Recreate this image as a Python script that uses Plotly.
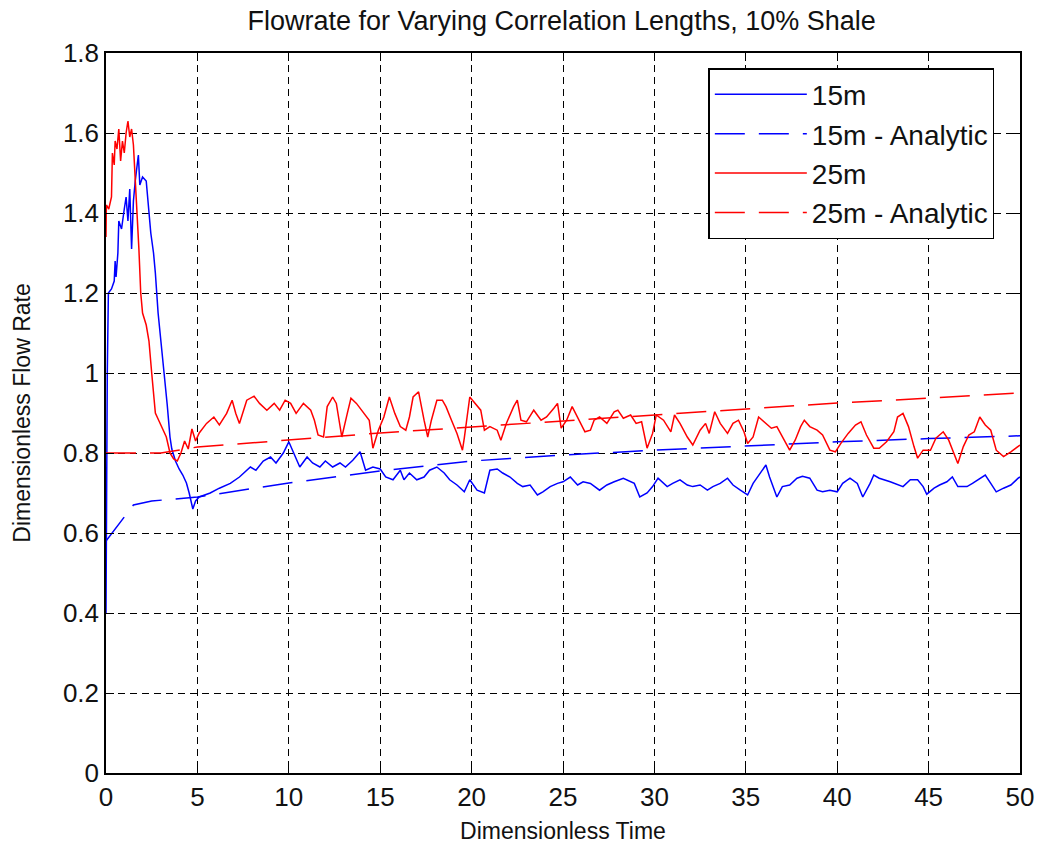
import plotly.graph_objects as go

# ---------------- data ----------------
t_15 = [0, 0.03, 0.07, 0.13, 0.3, 0.45, 0.5, 0.55, 0.65, 0.7, 0.85, 1.0, 1.1, 1.2, 1.3, 1.4, 1.5, 1.6, 1.7, 1.77,
        1.85, 2.0, 2.2, 2.3, 2.45, 2.6, 2.7, 2.85, 3.0, 3.2, 3.35, 3.5, 3.6, 3.8, 4.0, 4.2, 4.4, 4.55, 4.75, 4.9,
        5.1, 5.7, 6.2, 6.8, 7.3, 7.9, 8.2, 8.6, 9.0, 9.3, 9.7, 10.0, 10.25, 10.6, 11.0, 11.3, 11.7, 12.0, 12.4,
        12.8, 13.1, 13.5, 13.9, 14.2, 14.6, 15.0, 15.3, 15.7, 16.1, 16.3, 16.6, 17.0, 17.4, 17.7, 18.1, 18.5,
        18.8, 19.2, 19.6, 19.9, 20.3, 20.7, 21.0, 21.4, 21.7, 22.1, 22.5, 22.8, 23.2, 23.6, 23.9, 24.3, 24.7,
        25.0, 25.4, 25.8, 26.1, 26.5, 27.0, 27.4, 27.8, 28.3, 28.9, 29.2, 29.6, 29.9, 30.2, 30.7, 31.0, 31.4,
        31.8, 32.1, 32.5, 32.9, 33.2, 33.6, 34.0, 34.3, 34.7, 35.1, 35.4, 35.8, 36.1, 36.3, 36.7, 37.0, 37.4,
        37.8, 38.1, 38.5, 38.9, 39.2, 39.6, 40.0, 40.3, 40.7, 41.1, 41.4, 41.8, 42.0, 42.3, 42.9, 43.3, 43.6,
        44.0, 44.4, 44.7, 44.9, 45.3, 45.6, 46.0, 46.3, 46.6, 47.1, 47.4, 47.8, 48.1, 48.4, 48.7, 49.1, 49.5,
        49.9, 50.0]
q_15 = [0.40, 0.75, 1.00, 1.20, 1.21, 1.23, 1.28, 1.24, 1.30, 1.38, 1.36, 1.41, 1.44, 1.38, 1.46, 1.31, 1.43, 1.48,
        1.52, 1.545, 1.47, 1.49, 1.48, 1.42, 1.35, 1.30, 1.25, 1.15, 1.08, 1.00, 0.92, 0.84, 0.81, 0.78, 0.76,
        0.745, 0.725, 0.70, 0.66, 0.68,
        0.69, 0.70, 0.712, 0.724, 0.74, 0.765, 0.757, 0.78, 0.79, 0.775, 0.80, 0.828, 0.80, 0.765, 0.79, 0.775,
        0.765, 0.78, 0.765, 0.775, 0.765, 0.782, 0.803, 0.757, 0.765, 0.76, 0.74, 0.733, 0.757, 0.733, 0.75,
        0.733, 0.74, 0.757, 0.765, 0.75, 0.733, 0.72, 0.703, 0.733, 0.707, 0.70, 0.757, 0.76, 0.75, 0.74, 0.724,
        0.716, 0.72, 0.695, 0.703, 0.716, 0.724, 0.728, 0.74, 0.72, 0.728, 0.724, 0.707, 0.72, 0.728, 0.737,
        0.724, 0.69, 0.70, 0.716, 0.737, 0.716, 0.724, 0.733, 0.72, 0.716, 0.72, 0.707, 0.716, 0.724, 0.737,
        0.72, 0.707, 0.695, 0.724, 0.75, 0.77, 0.74, 0.69, 0.716, 0.72, 0.737, 0.742, 0.737, 0.707, 0.703,
        0.707, 0.703, 0.724, 0.737, 0.724, 0.69, 0.724, 0.745, 0.737, 0.728, 0.72, 0.716, 0.733, 0.733, 0.716,
        0.697, 0.712, 0.72, 0.728, 0.74, 0.716, 0.716, 0.724, 0.737, 0.745, 0.724, 0.703, 0.712, 0.72, 0.737,
        0.74]

t_25 = [0, 0.02, 0.15, 0.3, 0.35, 0.45, 0.5, 0.6, 0.7, 0.8, 0.9, 1.0, 1.1, 1.2, 1.3, 1.4, 1.5, 1.6, 1.7, 1.8,
        1.9, 2.0, 2.2, 2.35, 2.5, 2.6, 2.7, 2.9, 3.1, 3.3, 3.5, 3.7, 3.9, 4.1, 4.3, 4.5, 4.7, 4.9,
        5.1, 5.5, 5.9, 6.2, 6.6, 6.9, 7.1, 7.3, 7.7, 8.1, 8.4, 8.8, 9.2, 9.5, 9.8, 10.1, 10.4, 10.8, 11.2,
        11.4, 11.6, 11.9, 12.1, 12.4, 12.6, 12.9, 13.2, 13.4, 13.7, 14.1, 14.4, 14.6, 14.9, 15.2, 15.5, 15.8,
        16.1, 16.4, 16.6, 16.8, 17.1, 17.4, 17.6, 17.8, 18.1, 18.4, 18.6, 18.9, 19.2, 19.5, 19.6, 19.9, 20.2,
        20.5, 20.7, 21.0, 21.4, 21.6, 21.9, 22.3, 22.5, 22.7, 23.0, 23.4, 23.8, 24.1, 24.5, 24.7, 24.9, 25.2,
        25.5, 25.8, 26.2, 26.5, 26.7, 27.0, 27.4, 27.8, 28.0, 28.3, 28.7, 29.0, 29.3, 29.6, 29.9, 30.1, 30.5,
        30.9, 31.1, 31.4, 31.8, 32.1, 32.5, 32.8, 33.0, 33.3, 33.6, 34.0, 34.3, 34.6, 34.9, 35.1, 35.4, 35.7,
        36.1, 36.4, 36.7, 37.0, 37.4, 37.7, 38.0, 38.2, 38.5, 38.9, 39.2, 39.6, 39.9, 40.2, 40.6, 41.0, 41.3,
        41.6, 42.0, 42.3, 42.7, 43.1, 43.3, 43.6, 43.9, 44.2, 44.4, 44.7, 45.1, 45.4, 45.8, 46.1, 46.4, 46.6,
        46.9, 47.2, 47.5, 47.8, 48.1, 48.4, 48.7, 49.1, 49.5, 49.9, 50.0]
q_25 = [1.34, 1.42, 1.41, 1.44, 1.55, 1.52, 1.58, 1.56, 1.61, 1.53, 1.58, 1.55, 1.60, 1.63, 1.59, 1.61, 1.57, 1.49,
        1.40, 1.31, 1.20, 1.15, 1.12, 1.08, 1.00, 0.94, 0.90, 0.88, 0.86, 0.84, 0.80, 0.785, 0.78, 0.80, 0.83,
        0.81, 0.86, 0.83,
        0.85, 0.874, 0.89, 0.87, 0.899, 0.932, 0.899, 0.874, 0.932, 0.942, 0.924, 0.907, 0.924, 0.907, 0.932,
        0.924, 0.899, 0.924, 0.907, 0.882, 0.845, 0.84, 0.916, 0.94, 0.924, 0.84, 0.899, 0.937, 0.924, 0.899,
        0.882, 0.812, 0.857, 0.89, 0.94, 0.899, 0.866, 0.857, 0.89, 0.94, 0.953, 0.882, 0.84, 0.882, 0.932,
        0.932, 0.916, 0.882, 0.849, 0.807, 0.837, 0.94, 0.924, 0.907, 0.857, 0.866, 0.857, 0.832, 0.874, 0.916,
        0.932, 0.882, 0.878, 0.907, 0.882, 0.89, 0.912, 0.924, 0.862, 0.882, 0.916, 0.89, 0.853, 0.857, 0.882,
        0.89, 0.874, 0.903, 0.907, 0.887, 0.895, 0.874, 0.878, 0.812, 0.849, 0.895, 0.882, 0.853, 0.895, 0.874,
        0.84, 0.82, 0.857, 0.874, 0.849, 0.903, 0.874, 0.849, 0.874, 0.882, 0.853, 0.824, 0.84, 0.89, 0.874,
        0.862, 0.866, 0.84, 0.807, 0.832, 0.866, 0.882, 0.866, 0.857, 0.845, 0.807, 0.803, 0.824, 0.849, 0.87,
        0.878, 0.845, 0.812, 0.812, 0.828, 0.853, 0.89, 0.899, 0.866, 0.816, 0.787, 0.807, 0.807, 0.837, 0.853,
        0.832, 0.799, 0.774, 0.816, 0.845, 0.853, 0.89, 0.87, 0.857, 0.807, 0.791, 0.803, 0.816, 0.82]

t_15a = [0, 1.5, 2.5, 5, 10, 15, 20, 25, 30, 35, 40, 45, 50]
q_15a = [0.58, 0.67, 0.68, 0.69, 0.725, 0.755, 0.78, 0.795, 0.807, 0.818, 0.828, 0.836, 0.843]

t_25a = [0, 3, 5, 10, 15, 20, 25, 30, 35, 40, 45, 50]
q_25a = [0.80, 0.80, 0.815, 0.832, 0.85, 0.865, 0.88, 0.895, 0.91, 0.925, 0.937, 0.95]

x_ticks = [0, 5, 10, 15, 20, 25, 30, 35, 40, 45, 50]
y_ticks = [0, 0.2, 0.4, 0.6, 0.8, 1.0, 1.2, 1.4, 1.6, 1.8]
y_tick_text = ["0", "0.2", "0.4", "0.6", "0.8", "1", "1.2", "1.4", "1.6", "1.8"]

BLUE = "#0000FF"
RED = "#FF0000"
FONT = "Liberation Sans, Arial, sans-serif"

fig = go.Figure()
fig.add_trace(go.Scatter(x=t_15, y=q_15, mode="lines", name="15m", legendgroup="a",
                         line=dict(color=BLUE, width=1.5)))
fig.add_trace(go.Scatter(x=t_15a, y=q_15a, mode="lines", name="15m - Analytic", legendgroup="b",
                         line=dict(color=BLUE, width=1.5, dash="30px,14px")))
fig.add_trace(go.Scatter(x=t_25, y=q_25, mode="lines", name="25m", legendgroup="c",
                         line=dict(color=RED, width=1.5)))
fig.add_trace(go.Scatter(x=t_25a, y=q_25a, mode="lines", name="25m - Analytic", legendgroup="d",
                         line=dict(color=RED, width=1.5, dash="30px,14px")))

axis_common = dict(
    showline=True, linecolor="black", linewidth=1.5, mirror="ticks",
    ticks="inside", ticklen=8, tickcolor="black", tickwidth=1,
    showgrid=True, gridcolor="black", gridwidth=1, griddash="7px,5px",
    zeroline=False, automargin=False,
    tickfont=dict(family=FONT, size=26, color="#111111"),
)

fig.update_layout(
    width=1040, height=846,
    margin=dict(l=106, r=20, t=53, b=73),
    paper_bgcolor="white", plot_bgcolor="white",
    title=dict(text="Flowrate for Varying Correlation Lengths, 10% Shale",
               font=dict(family=FONT, size=27, color="#111111"),
               x=0.54, xanchor="center", y=0.976, yanchor="middle", yref="container"),
    xaxis=dict(range=[0, 50], tickvals=x_ticks, ticktext=[str(v) for v in x_ticks],
               title=dict(text="Dimensionless Time", font=dict(family=FONT, size=23, color="#111111"), standoff=12),
               **axis_common),
    yaxis=dict(range=[0, 1.8], tickvals=y_ticks, ticktext=y_tick_text,
               title=dict(text="Dimensionless Flow Rate", font=dict(family=FONT, size=23, color="#111111"), standoff=26),
               **axis_common),
    legend=dict(x=0.659, y=0.979, xanchor="left", yanchor="top",
                bgcolor="white", bordercolor="black", borderwidth=1.5,
                font=dict(family=FONT, size=28, color="#111111"),
                itemwidth=92,
                traceorder="grouped", tracegroupgap=0),
    showlegend=True,
)

fig.write_html("out.html")
